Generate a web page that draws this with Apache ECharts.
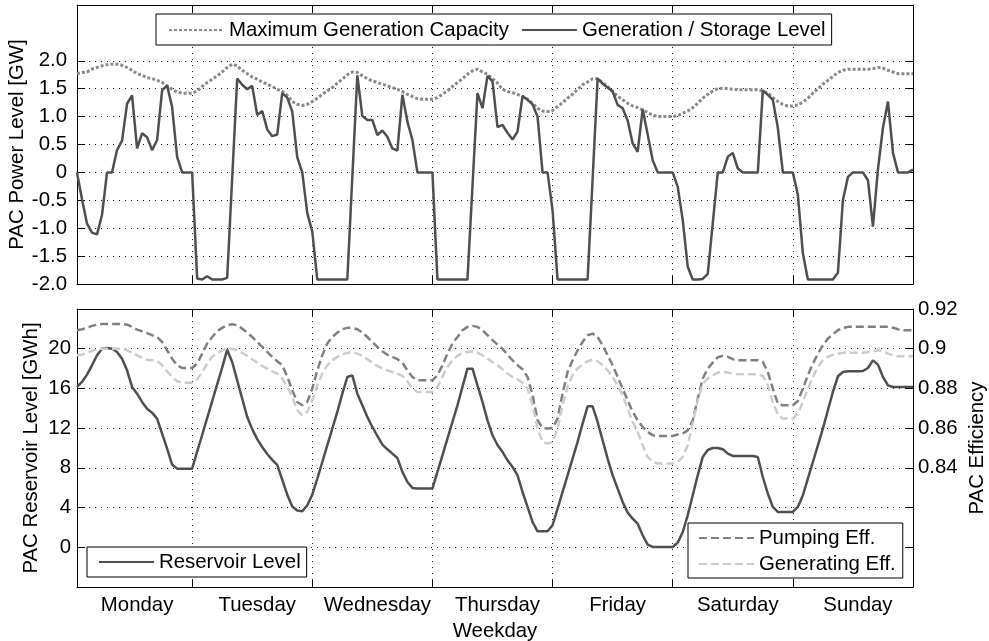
<!DOCTYPE html>
<html>
<head>
<meta charset="utf-8">
<script src="https://cdn.jsdelivr.net/npm/echarts@6/dist/echarts.min.js"></script>
<style>
html, body { margin: 0; padding: 0; background: #fff; }
#chart { width: 989px; height: 641px; }
</style>
</head>
<body>
<div id="chart"></div>
<script>
// Weekday names and hour positions (hour 1 .. 168 of the week)
const dayNames = ['Monday', 'Tuesday', 'Wednesday', 'Thursday', 'Friday', 'Saturday', 'Sunday'];
const dayBoundaryHours = [24, 48, 72, 96, 120, 144];
const dayLabelHours = [13, 37, 61, 85, 109, 133, 157];

// Tick values
const powerTicks = [-2, -1.5, -1, -0.5, 0, 0.5, 1, 1.5, 2];
const reservoirTicks = [0, 4, 8, 12, 16, 20];
const efficiencyTicks = [0.80, 0.82, 0.84, 0.86, 0.88, 0.90, 0.92];
const efficiencyLabels = [0.84, 0.86, 0.88, 0.90, 0.92];

// Hourly maximum generation capacity [GW]
const maxCapacity = [
  1.77, 1.79, 1.80, 1.85, 1.88, 1.91, 1.93, 1.94, 1.94, 1.92,
  1.88, 1.83, 1.77, 1.74, 1.70, 1.68, 1.65, 1.61, 1.55, 1.49,
  1.44, 1.42, 1.42, 1.42, 1.46, 1.54, 1.61, 1.67, 1.73, 1.80,
  1.88, 1.94, 1.91, 1.83, 1.77, 1.71, 1.67, 1.62, 1.58, 1.54,
  1.49, 1.45, 1.38, 1.27, 1.22, 1.20, 1.22, 1.27, 1.33, 1.40,
  1.46, 1.52, 1.60, 1.67, 1.75, 1.80, 1.79, 1.73, 1.68, 1.64,
  1.61, 1.58, 1.55, 1.52, 1.49, 1.45, 1.40, 1.36, 1.32, 1.31,
  1.31, 1.31, 1.34, 1.40, 1.46, 1.54, 1.61, 1.68, 1.76, 1.82,
  1.85, 1.80, 1.76, 1.68, 1.60, 1.49, 1.45, 1.43, 1.40, 1.36,
  1.31, 1.24, 1.15, 1.10, 1.09, 1.11, 1.18, 1.25, 1.33, 1.40,
  1.49, 1.57, 1.62, 1.68, 1.68, 1.61, 1.54, 1.45, 1.37, 1.30,
  1.24, 1.19, 1.16, 1.12, 1.07, 1.03, 1.00, 1.00, 1.00, 1.00,
  1.02, 1.06, 1.10, 1.16, 1.24, 1.33, 1.40, 1.46, 1.50, 1.51,
  1.50, 1.49, 1.48, 1.48, 1.48, 1.48, 1.48, 1.46, 1.42, 1.34,
  1.27, 1.22, 1.19, 1.19, 1.21, 1.26, 1.33, 1.42, 1.50, 1.58,
  1.65, 1.72, 1.79, 1.83, 1.85, 1.85, 1.85, 1.85, 1.85, 1.86,
  1.88, 1.87, 1.83, 1.80, 1.77, 1.77, 1.77, 1.77
];

// Hourly generation (+) / storage (-) power [GW]
const generation = [
  0, -0.48, -0.92, -1.08, -1.11, -0.76, 0, 0, 0.40, 0.57,
  1.23, 1.38, 0.43, 0.70, 0.63, 0.40, 0.58, 1.47, 1.56, 1.17,
  0.28, 0, 0, 0, -1.90, -1.92, -1.86, -1.92, -1.92, -1.92,
  -1.89, -0.10, 1.68, 1.57, 1.49, 1.55, 1.03, 1.10, 0.77, 0.65,
  0.68, 1.42, 1.34, 1.09, 0.27, 0, -0.73, -1.06, -1.92, -1.92,
  -1.92, -1.92, -1.92, -1.92, -1.92, -0.08, 1.74, 1.01, 0.94, 0.94,
  0.67, 0.75, 0.64, 0.43, 0.39, 1.39, 0.91, 0.58, 0, 0,
  0, 0, -1.92, -1.92, -1.92, -1.92, -1.92, -1.92, -1.92, -0.25,
  1.42, 1.15, 1.73, 1.63, 0.81, 0.85, 0.71, 0.59, 0.73, 1.37,
  1.30, 1.22, 1.00, 0, 0, -0.68, -1.92, -1.92, -1.92, -1.92,
  -1.92, -1.92, -1.92, -0.12, 1.68, 1.59, 1.52, 1.45, 1.21, 1.15,
  0.93, 0.52, 0.37, 1.13, 0.68, 0.22, 0, 0, 0, 0,
  -0.26, -0.85, -1.69, -1.92, -1.92, -1.91, -1.82, -0.91, 0, 0,
  0.28, 0.35, 0.07, 0, 0, 0, 0, 1.47, 1.39, 1.30,
  0.80, 0, 0, 0, -0.40, -1.45, -1.92, -1.92, -1.92, -1.92,
  -1.92, -1.92, -1.80, -0.50, -0.08, 0, 0, 0, -0.14, -0.97,
  0.06, 0.80, 1.27, 0.35, 0, 0, 0, 0.05
];

// Hourly reservoir level [GWh]
const reservoir = [
  16.15, 16.65, 17.39, 18.33, 19.34, 20.0, 20.07, 20.0, 19.67, 19.0,
  17.82, 16.15, 15.47, 14.64, 13.96, 13.56, 12.96, 11.45, 9.94, 8.33,
  7.92, 7.92, 7.92, 7.92, 9.63, 11.31, 13.02, 14.70, 16.41, 18.09,
  19.9, 18.66, 16.82, 14.97, 13.12, 11.9, 10.9, 10.1, 9.4, 8.8,
  8.3, 6.8, 5.3, 4.1, 3.7, 3.63, 4.23, 5.30, 6.92, 8.59,
  10.27, 11.95, 13.63, 15.47, 17.15, 17.32, 15.47, 14.30, 13.12, 12.12,
  11.21, 10.34, 9.87, 9.43, 9.00, 7.59, 6.58, 5.98, 5.91, 5.91,
  5.91, 5.91, 7.59, 9.26, 10.94, 12.62, 14.30, 16.15, 17.99, 17.99,
  16.31, 14.64, 12.79, 11.28, 10.3, 9.60, 8.76, 8.09, 7.25, 5.57,
  4.06, 2.55, 1.61, 1.61, 1.61, 2.22, 3.89, 5.57, 7.25, 8.93,
  10.61, 12.45, 14.20, 14.20, 12.62, 10.78, 8.93, 7.25, 5.91, 4.57,
  3.49, 2.89, 2.38, 1.21, 0.27, 0.03, 0.03, 0.03, 0.03, 0.03,
  0.47, 1.54, 3.22, 5.24, 7.25, 9.1, 9.8, 10.0, 10.0, 9.87,
  9.43, 9.20, 9.20, 9.20, 9.20, 9.20, 9.10, 7.08, 5.40, 4.06,
  3.56, 3.56, 3.56, 3.56, 4.06, 5.24, 6.92, 8.59, 10.27, 11.95,
  13.80, 15.64, 17.22, 17.66, 17.72, 17.72, 17.72, 17.76, 18.06, 18.83,
  18.40, 17.15, 16.31, 16.15, 16.15, 16.15, 16.15, 16.15
];

// Hourly pumping efficiency
const pumpingEff = [
  0.9093, 0.9098, 0.9105, 0.9115, 0.9121, 0.9125, 0.9125, 0.9125, 0.9125, 0.9125,
  0.9121, 0.9110, 0.9096, 0.9088, 0.9079, 0.9068, 0.9059, 0.9034, 0.8992, 0.8950,
  0.8917, 0.8903, 0.8903, 0.8903, 0.8925, 0.8975, 0.9026, 0.9059, 0.9088, 0.9105,
  0.9118, 0.9123, 0.9118, 0.9101, 0.9081, 0.9059, 0.9034, 0.9009, 0.8984, 0.8959,
  0.8937, 0.8917, 0.8860, 0.8791, 0.8732, 0.8715, 0.8732, 0.8799, 0.8891, 0.8967,
  0.9026, 0.9059, 0.9081, 0.9098, 0.9105, 0.9105, 0.9098, 0.9081, 0.9059, 0.9034,
  0.9009, 0.8987, 0.8970, 0.8959, 0.8947, 0.8930, 0.8891, 0.8858, 0.8841, 0.8841,
  0.8841, 0.8841, 0.8866, 0.8917, 0.8975, 0.9026, 0.9059, 0.9093, 0.9110, 0.9115,
  0.9110, 0.9093, 0.9068, 0.9043, 0.9020, 0.9000, 0.8970, 0.8942, 0.8917, 0.8897,
  0.8858, 0.8766, 0.8640, 0.8601, 0.8598, 0.8601, 0.8648, 0.8774, 0.8883, 0.8942,
  0.8992, 0.9034, 0.9068, 0.9076, 0.9059, 0.9017, 0.8967, 0.8917, 0.8858, 0.8799,
  0.8740, 0.8682, 0.8640, 0.8606, 0.8581, 0.8564, 0.8561, 0.8561, 0.8561, 0.8561,
  0.8568, 0.8573, 0.8589, 0.8640, 0.8749, 0.8850, 0.8900, 0.8930, 0.8957, 0.8964,
  0.8959, 0.8947, 0.8942, 0.8942, 0.8942, 0.8942, 0.8942, 0.8933, 0.8883, 0.8799,
  0.8724, 0.8715, 0.8715, 0.8715, 0.8737, 0.8799, 0.8866, 0.8925, 0.8975, 0.9017,
  0.9051, 0.9073, 0.9093, 0.9105, 0.9110, 0.9110, 0.9110, 0.9110, 0.9110, 0.9110,
  0.9110, 0.9110, 0.9110, 0.9106, 0.9098, 0.9093, 0.9093, 0.9093
];

// Hourly generating efficiency
const generatingEff = [
  0.8967, 0.8970, 0.8979, 0.8989, 0.8997, 0.9000, 0.9000, 0.9000, 0.9000, 0.9000,
  0.8992, 0.8980, 0.8967, 0.8955, 0.8945, 0.8942, 0.8939, 0.8917, 0.8886, 0.8858,
  0.8836, 0.8829, 0.8829, 0.8829, 0.8846, 0.8883, 0.8925, 0.8959, 0.8980, 0.8992,
  0.9000, 0.9000, 0.8992, 0.8979, 0.8964, 0.8947, 0.8930, 0.8913, 0.8900, 0.8886,
  0.8875, 0.8850, 0.8810, 0.8757, 0.8690, 0.8665, 0.8682, 0.8740, 0.8816, 0.8875,
  0.8917, 0.8942, 0.8959, 0.8970, 0.8980, 0.8984, 0.8975, 0.8964, 0.8947, 0.8930,
  0.8913, 0.8900, 0.8891, 0.8883, 0.8875, 0.8863, 0.8836, 0.8799, 0.8782, 0.8782,
  0.8782, 0.8782, 0.8808, 0.8858, 0.8908, 0.8942, 0.8964, 0.8979, 0.8984, 0.8987,
  0.8980, 0.8967, 0.8950, 0.8933, 0.8917, 0.8897, 0.8875, 0.8858, 0.8846, 0.8829,
  0.8799, 0.8715, 0.8598, 0.8531, 0.8522, 0.8531, 0.8598, 0.8715, 0.8808, 0.8866,
  0.8900, 0.8920, 0.8937, 0.8945, 0.8937, 0.8917, 0.8891, 0.8858, 0.8816, 0.8766,
  0.8698, 0.8631, 0.8581, 0.8514, 0.8455, 0.8430, 0.8422, 0.8422, 0.8422, 0.8422,
  0.8430, 0.8455, 0.8514, 0.8623, 0.8740, 0.8824, 0.8850, 0.8866, 0.8880, 0.8883,
  0.8880, 0.8875, 0.8871, 0.8871, 0.8871, 0.8871, 0.8871, 0.8863, 0.8816, 0.8732,
  0.8668, 0.8648, 0.8648, 0.8648, 0.8673, 0.8732, 0.8799, 0.8858, 0.8908, 0.8942,
  0.8959, 0.8970, 0.8975, 0.8980, 0.8980, 0.8980, 0.8980, 0.8980, 0.8984, 0.8987,
  0.8992, 0.8987, 0.8975, 0.8967, 0.8962, 0.8962, 0.8962, 0.8962
];

// Pair each hourly value with its hour of the week (1-based)
const byHour = values => values.map((v, i) => [i + 1, v]);

const FONT = '"Liberation Sans", Arial, Helvetica, sans-serif';
const FS = 20.4;
const DARK = '#4f4f4f';
const GRID_LINE = { show: true, lineStyle: { color: '#222', width: 1, type: [1, 5] } };
const BOX_LINE = { show: true, onZero: false, lineStyle: { color: '#000', width: 1 } };
const TICK = (values) => ({ show: true, inside: true, length: 8, customValues: values, lineStyle: { color: '#000', width: 1 } });
const TEXT = { fontFamily: FONT, fontSize: FS, color: '#000' };

function hourAxis(gridIndex, position, withLabels) {
  return {
    type: 'value', gridIndex, position, min: 1, max: 168,
    axisLine: BOX_LINE,
    axisTick: TICK(dayBoundaryHours),
    splitLine: position === 'bottom' ? GRID_LINE : { show: false },
    axisLabel: withLabels ? Object.assign({
      show: true, customValues: dayLabelHours, margin: 8,
      formatter: v => dayNames[Math.round((v - 13) / 24)]
    }, TEXT) : { show: false },
    name: withLabels ? 'Weekday' : '',
    nameLocation: 'middle', nameGap: 34, nameMoveOverlap: false,
    nameTextStyle: TEXT
  };
}

// Legend boxes: plain line samples, no point markers
const legendBase = {
  itemWidth: 55, itemHeight: 14,
  backgroundColor: '#fff', borderColor: '#000', borderWidth: 1,
  selectedMode: false,
  itemStyle: { opacity: 0 },
  textStyle: TEXT
};

const chart = echarts.init(document.getElementById('chart'), null, { renderer: 'canvas' });

chart.setOption({
  animation: false,
  backgroundColor: '#fff',
  textStyle: { fontFamily: FONT },
  grid: [
    { left: 77, top: 5, width: 836, height: 279, containLabel: false, outerBoundsMode: 'none' },
    { left: 77, top: 309, width: 836, height: 278, containLabel: false, outerBoundsMode: 'none' }
  ],
  xAxis: [
    hourAxis(0, 'bottom', false),
    hourAxis(0, 'top', false),
    hourAxis(1, 'bottom', true),
    hourAxis(1, 'top', false)
  ],
  yAxis: [
    {
      type: 'value', gridIndex: 0, position: 'left', min: -2, max: 3,
      axisLine: BOX_LINE, axisTick: TICK(powerTicks), splitLine: GRID_LINE,
      axisLabel: Object.assign({
        customValues: powerTicks, margin: 10,
        formatter: v => (Math.abs(v) < 1e-9 ? '0' : v.toFixed(1))
      }, TEXT),
      name: 'PAC Power Level [GW]', nameLocation: 'middle', nameGap: 50, nameMoveOverlap: false,
      nameTextStyle: TEXT
    },
    {
      type: 'value', gridIndex: 0, position: 'right', min: -2, max: 3,
      axisLine: BOX_LINE, axisTick: TICK(powerTicks), splitLine: { show: false },
      axisLabel: { show: false }
    },
    {
      type: 'value', gridIndex: 1, position: 'left', min: -4, max: 24,
      axisLine: BOX_LINE, axisTick: TICK(reservoirTicks), splitLine: GRID_LINE,
      axisLabel: Object.assign({
        customValues: reservoirTicks, margin: 6,
        formatter: v => String(Math.round(v))
      }, TEXT),
      name: 'PAC Reservoir Level [GWh]', nameLocation: 'middle', nameGap: 36, nameMoveOverlap: false,
      nameTextStyle: TEXT
    },
    {
      type: 'value', gridIndex: 1, position: 'right', min: 0.78, max: 0.92,
      axisLine: BOX_LINE, axisTick: TICK(efficiencyTicks), splitLine: { show: false },
      axisLabel: Object.assign({
        customValues: efficiencyLabels, margin: 5,
        formatter: v => String(+v.toFixed(2))
      }, TEXT),
      name: 'PAC Efficiency', nameLocation: 'middle', nameGap: 54, nameMoveOverlap: false,
      nameTextStyle: TEXT
    }
  ],
  legend: [
    Object.assign({
      data: ['Maximum Generation Capacity', 'Generation / Storage Level'],
      left: 156, top: 14, orient: 'horizontal', itemGap: 12,
      padding: [6, 6, 5, 12]
    }, legendBase),
    Object.assign({
      data: ['Reservoir Level'],
      left: 87, top: 547, orient: 'horizontal',
      padding: [5, 6, 5, 11]
    }, legendBase),
    Object.assign({
      data: ['Pumping Eff.', 'Generating Eff.'],
      left: 688, top: 523, orient: 'vertical', itemGap: 6,
      padding: [5, 7, 4, 10]
    }, legendBase)
  ],
  series: [
    {
      name: 'Maximum Generation Capacity', type: 'line', xAxisIndex: 0, yAxisIndex: 0,
      data: byHour(maxCapacity), symbol: 'none', silent: true,
      lineStyle: { color: '#8a8a8a', width: 3, type: [3, 2] },
      itemStyle: { color: '#8a8a8a' }
    },
    {
      name: 'Generation / Storage Level', type: 'line', xAxisIndex: 0, yAxisIndex: 0,
      data: byHour(generation), symbol: 'none', silent: true,
      lineStyle: { color: DARK, width: 2.5 },
      itemStyle: { color: DARK }
    },
    {
      name: 'Reservoir Level', type: 'line', xAxisIndex: 2, yAxisIndex: 2,
      data: byHour(reservoir), symbol: 'none', silent: true,
      lineStyle: { color: DARK, width: 2.5 },
      itemStyle: { color: DARK }
    },
    {
      name: 'Pumping Eff.', type: 'line', xAxisIndex: 2, yAxisIndex: 3,
      data: byHour(pumpingEff), symbol: 'none', silent: true,
      lineStyle: { color: '#808080', width: 2.5, type: [8, 4] },
      itemStyle: { color: '#808080' }
    },
    {
      name: 'Generating Eff.', type: 'line', xAxisIndex: 2, yAxisIndex: 3,
      data: byHour(generatingEff), symbol: 'none', silent: true,
      lineStyle: { color: '#cccccc', width: 2.5, type: [8, 4] },
      itemStyle: { color: '#cccccc' }
    }
  ]
});
</script>
</body>
</html>
